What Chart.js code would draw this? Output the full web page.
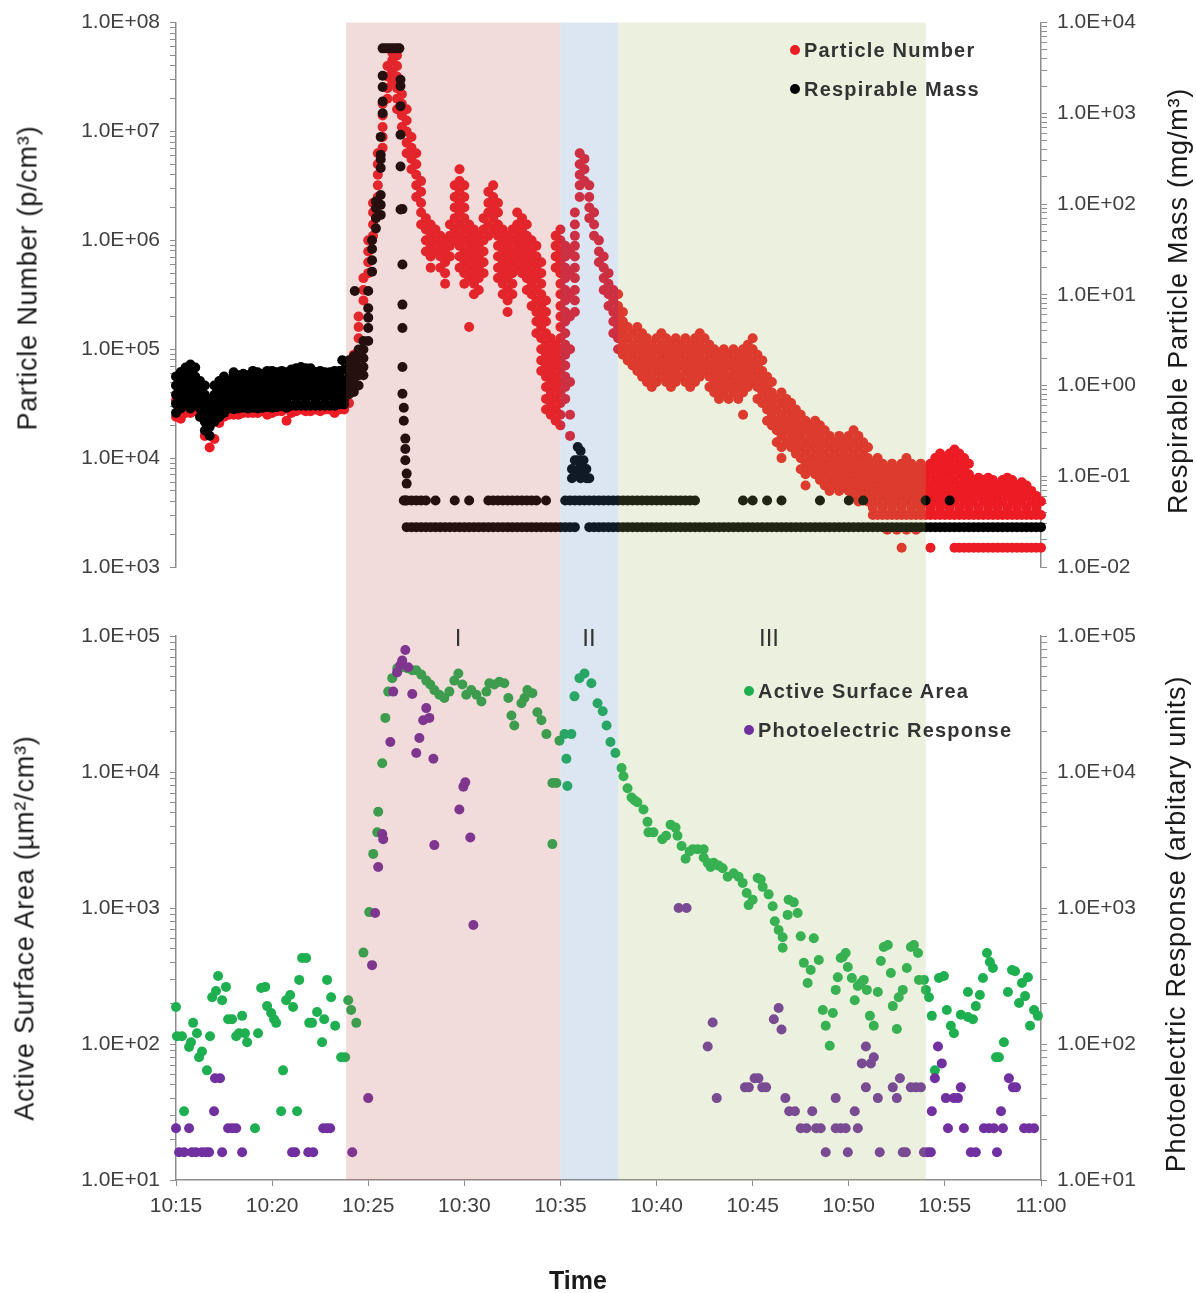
<!DOCTYPE html>
<html lang="en">
<head>
<meta charset="UTF-8">
<title>Particle number, respirable mass and surface area</title>
<script src="https://cdn.jsdelivr.net/npm/chart.js@4.4.1/dist/chart.umd.min.js"></script>
<style>
  body { margin: 0; background: #fff; font-family: "Liberation Sans", Arial, sans-serif; }
  #figure { position: relative; width: 1196px; height: 1293px; overflow: hidden; }
  canvas { position: absolute; left: 0; }
  .ytitle { position: absolute; transform-origin: 0 0; transform: rotate(-90deg) translate(-50%, -50%);
            white-space: nowrap; font-size: 27px; letter-spacing: 0.8px; color: #1a1a1a; line-height: 1; }
  .legend { position: absolute; font-weight: bold; font-size: 20px; color: #333; white-space: nowrap; line-height: 20px; letter-spacing: 1.2px; }
  .legend i { display: inline-block; width: 10px; height: 10px; border-radius: 50%; margin-right: 4px; vertical-align: 2px; }
  .phase { position: absolute; font-size: 24px; color: #333; transform: translateX(-50%); line-height: 1; }
  .xtitle { position: absolute; font-size: 25px; font-weight: bold; color: #1a1a1a; transform: translate(-50%, -50%); line-height: 1; }
</style>
</head>
<body>
<div id="figure">
  <canvas id="topChart" width="1196" height="600" style="top:0"></canvas>
  <canvas id="bottomChart" width="1196" height="693" style="top:600px"></canvas>

  <div class="ytitle" style="left:28px; top:278px">Particle Number (p/cm³)</div>
  <div class="ytitle" style="left:1178px; top:301px">Respirable Particle Mass (mg/m³)</div>
  <div class="ytitle" style="left:25px; top:928px">Active Surface Area (µm²/cm³)</div>
  <div class="ytitle" style="left:1176px; top:924px">Photoelectric Response (arbitary units)</div>
  <div class="xtitle" style="left:578px; top:1280px">Time</div>

  <div class="legend" style="left:790px; top:40px"><i style="background:#ed1c24"></i>Particle Number</div>
  <div class="legend" style="left:790px; top:79px"><i style="background:#000"></i>Respirable Mass</div>
  <div class="legend" style="left:744px; top:681px"><i style="background:#1eb050"></i>Active Surface Area</div>
  <div class="legend" style="left:744px; top:720px"><i style="background:#7030a0"></i>Photoelectric Response</div>

  <div class="phase" style="left:458px; top:626px">I</div>
  <div class="phase" style="left:589px; top:626px">II</div>
  <div class="phase" style="left:769px; top:626px">III</div>
</div>

<script>
// time axis: minutes after 10:15
const timeMin = 0, timeMax = 45, timeStep = 5;
const phaseLabels = ['I', 'II', 'III'];
const phaseStart = [8.85, 20.0, 23.0];
const phaseEnd = [20.0, 23.0, 39.0];

// particle number (p/cm3): [minute, readings...]
const particleNumber = [
  [0, 2.4e4, 3.4e4], [0.25, 2.3e4, 3.2e4], [0.5, 2.6e4, 3.6e4], [0.75, 2.6e4, 4.0e4],
  [1.0, 2.7e4, 4.0e4], [1.25, 2.5e4, 3.5e4], [1.5, 1.6e4, 2.5e4], [1.75, 1.25e4, 2.0e4],
  [2.0, 1.5e4, 2.4e4], [2.25, 2.1e4, 3.0e4], [2.5, 2.4e4, 3.3e4], [2.75, 2.5e4, 3.4e4],
  [3.0, 2.5e4, 3.5e4], [3.25, 2.5e4, 3.6e4], [3.5, 2.6e4, 3.7e4], [3.75, 2.6e4, 3.8e4],
  [4.0, 2.6e4, 3.8e4], [4.25, 2.6e4, 3.9e4], [4.5, 2.7e4, 4.0e4], [4.75, 2.5e4, 4.0e4],
  [5.0, 2.6e4, 4.0e4], [5.25, 2.7e4, 4.2e4], [5.5, 2.7e4, 4.2e4], [5.75, 2.2e4, 4.0e4],
  [6.0, 2.6e4, 4.2e4], [6.25, 2.7e4, 4.4e4], [6.5, 2.8e4, 5.2e4], [6.75, 2.7e4, 5.5e4],
  [7.0, 2.7e4, 4.3e4], [7.25, 2.8e4, 4.3e4], [7.5, 2.7e4, 4.3e4], [7.75, 2.8e4, 4.4e4],
  [8.0, 2.8e4, 4.4e4], [8.25, 2.6e4, 4.5e4], [8.5, 2.8e4, 4.5e4], [8.75, 2.8e4, 4.6e4],
  [9.0, 3.2e4, 4e4, 5e4], [9.25, 4.5e4, 5.6e4, 7.1e4, 8.9e4], [9.5, 1.26e5, 1.6e5, 2e5],
  [9.75, 2.8e5, 3.5e5, 4.5e5], [10.0, 5e5, 6.3e5, 7.9e5, 1e6], [10.25, 1.1e6, 1.4e6, 1.8e6, 2.2e6],
  [10.5, 2.5e6, 3.2e6, 4e6, 5e6, 6.3e6], [10.75, 7.1e6, 8.9e6, 1.1e7, 1.4e7, 1.8e7],
  [11.0, 2e7, 2.5e7, 3.2e7, 4e7], [11.25, 2.8e7, 3.5e7, 4.5e7, 5.3e7],
  [11.5, 1.6e7, 2e7, 2.5e7, 3.2e7, 4e7, 5e7], [11.75, 1.1e7, 1.4e7, 1.8e7, 2.2e7],
  [12.0, 6.3e6, 7.9e6, 1e7, 1.26e7, 1.6e7], [12.25, 4.5e6, 5.6e6, 7.1e6, 8.9e6],
  [12.5, 2.5e6, 3.2e6, 4e6, 5e6, 6.3e6], [12.75, 1.4e6, 1.8e6, 2.2e6, 2.8e6, 3.5e6],
  [13.0, 7.9e5, 1e6, 1.26e6, 1.6e6], [13.25, 5.6e5, 7.1e5, 8.9e5, 1.1e6, 1.4e6],
  [13.5, 7.9e5, 1e6, 1.26e6], [13.75, 5.6e5, 7.1e5, 8.9e5, 1.1e6],
  [14.0, 4e5, 5e5, 6.3e5, 7.9e5, 1e6], [14.25, 7.1e5, 8.9e5, 1.1e6, 1.4e6],
  [14.5, 1e6, 1.26e6, 1.6e6, 2e6, 2.5e6, 3.2e6],
  [14.75, 5.6e5, 7.1e5, 8.9e5, 1.1e6, 1.4e6, 1.8e6, 2.2e6, 2.8e6, 3.5e6, 4.5e6],
  [15.0, 4e5, 5e5, 6.3e5, 7.9e5, 1e6, 1.26e6, 1.6e6, 2e6, 2.5e6, 3.2e6],
  [15.25, 1.6e5, 4.5e5, 5.6e5, 7.1e5, 8.9e5, 1.1e6, 1.4e6],
  [15.5, 3.2e5, 4e5, 5e5, 6.3e5, 7.9e5, 1e6, 1.26e6],
  [15.75, 3.5e5, 4.5e5, 5.6e5, 7.1e5, 8.9e5, 1.1e6],
  [16.0, 5e5, 6.3e5, 7.9e5, 1e6, 1.26e6, 1.6e6], [16.25, 1.1e6, 1.4e6, 1.8e6, 2.2e6, 2.8e6],
  [16.5, 1.26e6, 1.6e6, 2e6, 2.5e6, 3.2e6],
  [16.75, 4.5e5, 5.6e5, 7.1e5, 8.9e5, 1.1e6, 1.4e6, 1.8e6, 2.2e6],
  [17.0, 3.2e5, 4e5, 5e5, 6.3e5, 7.9e5, 1e6, 1.26e6],
  [17.25, 2.2e5, 2.8e5, 3.5e5, 4.5e5, 5.6e5, 7.1e5, 8.9e5, 1.1e6],
  [17.5, 3.2e5, 4e5, 5e5, 6.3e5, 7.9e5, 1e6, 1.26e6],
  [17.75, 5.6e5, 7.1e5, 8.9e5, 1.1e6, 1.4e6, 1.8e6],
  [18.0, 5e5, 6.3e5, 7.9e5, 1e6, 1.26e6, 1.6e6],
  [18.25, 3.5e5, 4.5e5, 5.6e5, 7.1e5, 8.9e5, 1.1e6, 1.4e6],
  [18.5, 2.5e5, 3.2e5, 4e5, 5e5, 6.3e5, 7.9e5, 1e6],
  [18.75, 1.4e5, 1.8e5, 2.2e5, 2.8e5, 3.5e5, 4.5e5, 5.6e5, 7.1e5, 8.9e5],
  [19.0, 6.3e4, 7.9e4, 1e5, 1.26e5, 1.6e5, 2e5, 2.5e5, 3.2e5, 4e5, 5e5, 6.3e5],
  [19.25, 2.8e4, 3.5e4, 4.5e4, 5.6e4, 7.1e4, 8.9e4, 1.1e5, 1.4e5, 1.8e5, 2.2e5, 2.8e5],
  [19.5, 2.5e4, 3.2e4, 4e4, 5e4, 6.3e4, 7.9e4, 1e5, 1.26e5],
  [19.75, 2.2e4, 2.8e4, 3.5e4, 4.5e4, 5.6e4, 7.1e4, 8.9e4, 1.1e5, 5.6e5, 7.1e5, 8.9e5, 1.1e6],
  [20.0, 2e4, 2.5e4, 3.2e4, 4e4, 5e4, 6.3e4, 7.9e4, 1e5, 1.26e5, 1.6e5, 2e5, 2.5e5, 3.2e5, 4e5, 5e5, 6.3e5, 7.9e5, 1e6, 1.26e6],
  [20.25, 3.5e4, 4.5e4, 5.6e4, 7.1e4, 8.9e4, 1.1e5, 1.4e5, 1.8e5, 2.2e5, 2.8e5, 3.5e5, 4.5e5, 5.6e5, 7.1e5, 8.9e5],
  [20.5, 1.6e4, 2.5e4, 5e4, 1e5, 2e5, 3.2e5, 5e5, 7.9e5],
  [20.75, 2.2e5, 2.8e5, 3.5e5, 4.5e5, 5.6e5, 7.1e5, 8.9e5, 1.1e6, 1.4e6, 1.8e6],
  [21.0, 2.5e6, 3.2e6, 4e6, 5e6, 6.3e6], [21.25, 3.5e6, 4.5e6, 5.6e6],
  [21.5, 1.6e6, 2e6, 2.5e6, 3.2e6], [21.75, 1.1e6, 1.4e6, 1.8e6], [22.0, 6.3e5, 7.9e5, 1e6],
  [22.25, 3.5e5, 4.5e5, 5.6e5, 7.1e5], [22.5, 2.5e5, 3.2e5, 4e5, 5e5],
  [22.75, 1.4e5, 1.8e5, 2.2e5, 2.8e5, 3.5e5], [23.0, 1e5, 1.26e5, 1.6e5, 2e5, 2.5e5, 3.2e5],
  [23.25, 8.9e4, 1.1e5, 1.4e5, 1.8e5, 2.2e5], [23.5, 7.9e4, 1e5, 1.26e5, 1.6e5],
  [23.75, 7.1e4, 8.9e4, 1.1e5, 1.4e5], [24.0, 6.3e4, 7.9e4, 1e5, 1.26e5, 1.6e5],
  [24.25, 5.6e4, 7.1e4, 8.9e4, 1.1e5, 1.4e5], [24.5, 5e4, 6.3e4, 7.9e4, 1e5, 1.26e5],
  [24.75, 4.5e4, 5.6e4, 7.1e4, 8.9e4, 1.1e5], [25.0, 5e4, 6.3e4, 7.9e4, 1e5, 1.26e5],
  [25.25, 5.6e4, 7.1e4, 8.9e4, 1.1e5, 1.4e5], [25.5, 5e4, 6.3e4, 7.9e4, 1e5, 1.26e5],
  [25.75, 4.5e4, 5.6e4, 7.1e4, 8.9e4, 1.1e5], [26.0, 5e4, 6.3e4, 7.9e4, 1e5, 1.26e5],
  [26.25, 5.6e4, 7.1e4, 8.9e4, 1.1e5], [26.5, 5e4, 6.3e4, 7.9e4, 1e5, 1.26e5],
  [26.75, 4.5e4, 5.6e4, 7.1e4, 8.9e4, 1.1e5], [27.0, 5e4, 6.3e4, 7.9e4, 1e5, 1.26e5],
  [27.25, 5.6e4, 7.1e4, 8.9e4, 1.1e5, 1.4e5], [27.5, 6.3e4, 7.9e4, 1e5, 1.26e5],
  [27.75, 4.5e4, 5.6e4, 7.1e4, 8.9e4, 1.1e5], [28.0, 4e4, 5e4, 6.3e4, 7.9e4, 1e5],
  [28.25, 3.5e4, 4.5e4, 5.6e4, 7.1e4, 8.9e4], [28.5, 4e4, 5e4, 6.3e4, 7.9e4, 1e5],
  [28.75, 3.5e4, 4.5e4, 5.6e4, 7.1e4, 8.9e4], [29.0, 4e4, 5e4, 6.3e4, 7.9e4, 1e5],
  [29.25, 3.5e4, 4.5e4, 5.6e4, 7.1e4, 8.9e4], [29.5, 2.5e4, 4e4, 5e4, 6.3e4, 7.9e4, 1e5],
  [29.75, 4.5e4, 5.6e4, 7.1e4, 8.9e4, 1.1e5], [30.0, 5e4, 6.3e4, 7.9e4, 1e5, 1.26e5],
  [30.25, 3.5e4, 4.5e4, 5.6e4, 7.1e4, 8.9e4], [30.5, 3.2e4, 4e4, 5e4, 6.3e4, 7.9e4],
  [30.75, 2.2e4, 2.8e4, 3.5e4, 4.5e4, 5.6e4], [31.0, 2e4, 2.5e4, 3.2e4, 4e4, 5e4],
  [31.25, 1.4e4, 1.8e4, 2.2e4, 2.8e4, 3.5e4], [31.5, 1e4, 1.26e4, 1.6e4, 2e4, 2.5e4, 3.2e4, 4e4],
  [31.75, 1.4e4, 1.8e4, 2.2e4, 2.8e4, 3.5e4], [32.0, 1.26e4, 1.6e4, 2e4, 2.5e4, 3.2e4],
  [32.25, 1.1e4, 1.4e4, 1.8e4, 2.2e4, 2.8e4], [32.5, 7.9e3, 1e4, 1.26e4, 1.6e4, 2e4, 2.5e4],
  [32.75, 5.6e3, 7.1e3, 8.9e3, 1.1e4, 1.4e4, 1.8e4, 2.2e4], [33.0, 7.9e3, 1e4, 1.26e4, 1.6e4, 2e4],
  [33.25, 7.1e3, 8.9e3, 1.1e4, 1.4e4, 1.8e4, 2.2e4], [33.5, 6.3e3, 7.9e3, 1e4, 1.26e4, 1.6e4, 2e4],
  [33.75, 5.6e3, 7.1e3, 8.9e3, 1.1e4, 1.4e4, 1.8e4], [34.0, 5e3, 6.3e3, 7.9e3, 1e4, 1.26e4, 1.6e4],
  [34.25, 5.6e3, 7.1e3, 8.9e3, 1.1e4, 1.4e4], [34.5, 5e3, 6.3e3, 7.9e3, 1e4, 1.26e4, 1.6e4],
  [34.75, 5.6e3, 7.1e3, 8.9e3, 1.1e4, 1.4e4], [35.0, 5e3, 6.3e3, 7.9e3, 1e4, 1.26e4, 1.6e4],
  [35.25, 4.5e3, 5.6e3, 7.1e3, 8.9e3, 1.1e4, 1.4e4, 1.8e4], [35.5, 4e3, 5e3, 6.3e3, 7.9e3, 1e4, 1.26e4, 1.6e4],
  [35.75, 4.5e3, 5.6e3, 7.1e3, 8.9e3, 1.1e4, 1.4e4], [36.0, 4e3, 5e3, 6.3e3, 7.9e3, 1e4, 1.26e4],
  [36.25, 3e3, 3.5e3, 4.5e3, 5.6e3, 7.1e3, 8.9e3], [36.5, 3e3, 4e3, 5e3, 6.3e3, 7.9e3, 1e4],
  [36.75, 3e3, 3.5e3, 4.5e3, 5.6e3, 7.1e3, 8.9e3], [37.0, 2.2e3, 3e3, 4e3, 5e3, 6.3e3, 7.9e3],
  [37.25, 3e3, 3.5e3, 4.5e3, 5.6e3, 7.1e3, 8.9e3], [37.5, 2.2e3, 3e3, 4e3, 5e3, 6.3e3, 7.9e3],
  [37.75, 1.5e3, 3e3, 3.5e3, 4.5e3, 5.6e3, 7.1e3, 8.9e3], [38.0, 2.2e3, 3e3, 4e3, 5e3, 6.3e3, 7.9e3, 1e4],
  [38.25, 3e3, 3.5e3, 4.5e3, 5.6e3, 7.1e3, 8.9e3], [38.5, 2.2e3, 3e3, 4e3, 5e3, 6.3e3, 7.9e3],
  [38.75, 3e3, 3.5e3, 4.5e3, 5.6e3, 7.1e3, 8.9e3], [39.0, 3e3, 4e3, 5e3, 6.3e3, 7.9e3],
  [39.25, 1.5e3, 3e3, 3.5e3, 4.5e3, 5.6e3, 7.1e3, 8.9e3], [39.5, 3e3, 4e3, 5e3, 6.3e3, 7.9e3, 1e4],
  [39.75, 3e3, 3.5e3, 4.5e3, 5.6e3, 7.1e3, 8.9e3, 1.1e4], [40.0, 3e3, 4e3, 5e3, 6.3e3, 7.9e3, 1e4],
  [40.25, 3e3, 3.5e3, 4.5e3, 5.6e3, 7.1e3, 8.9e3, 1.1e4], [40.5, 1.5e3, 3e3, 4e3, 5e3, 6.3e3, 7.9e3, 1e4, 1.2e4],
  [40.75, 1.5e3, 3e3, 3.5e3, 4.5e3, 5.6e3, 7.1e3, 8.9e3, 1.1e4], [41.0, 1.5e3, 3e3, 4e3, 5e3, 6.3e3, 7.9e3, 1e4],
  [41.25, 1.5e3, 3e3, 3.5e3, 4.5e3, 5.6e3, 7.1e3, 8.9e3], [41.5, 1.5e3, 3e3, 4e3, 5e3, 6.3e3],
  [41.75, 1.5e3, 3e3, 3.5e3, 4.5e3, 5.6e3, 6.6e3], [42.0, 1.5e3, 3e3, 4e3, 5e3, 6.3e3],
  [42.25, 1.5e3, 3e3, 3.5e3, 4.5e3, 5.6e3, 6.6e3], [42.5, 1.5e3, 3e3, 4e3, 5e3, 6.3e3],
  [42.75, 1.5e3, 3e3, 3.5e3, 4.5e3, 5.6e3], [43.0, 1.5e3, 3e3, 4e3, 5e3, 6.3e3],
  [43.25, 1.5e3, 3e3, 3.5e3, 4.5e3, 5.6e3, 6.6e3], [43.5, 1.5e3, 3e3, 4e3, 5e3, 6.3e3],
  [43.75, 1.5e3, 3e3, 3.5e3, 4.5e3, 5.6e3], [44.0, 1.5e3, 3e3, 4e3, 5e3, 6e3],
  [44.25, 1.5e3, 3e3, 3.5e3, 4.5e3, 5.6e3], [44.5, 1.5e3, 3e3, 4e3, 5e3],
  [44.75, 1.5e3, 3e3, 3.5e3, 4.5e3], [45.0, 1.5e3, 3e3, 4e3]
];

// respirable mass (mg/m3): [minute, readings...]
const respirableMass = [
  [0, 0.5, 0.63, 0.79, 1.0, 1.26], [0.25, 0.56, 0.71, 0.89, 1.12, 1.41], [0.5, 0.63, 0.79, 1.0, 1.26, 1.58],
  [0.75, 0.56, 0.71, 0.89, 1.12, 1.41, 1.7], [1.0, 0.63, 0.79, 1.0, 1.26, 1.58], [1.25, 0.45, 0.56, 0.71, 0.89, 1.12],
  [1.5, 0.32, 0.4, 0.5, 0.63, 0.79, 1.0], [1.75, 0.28, 0.35, 0.45, 0.56, 0.71], [2.0, 0.4, 0.5, 0.63, 0.79, 1.0],
  [2.25, 0.45, 0.56, 0.71, 0.89, 1.12], [2.5, 0.5, 0.63, 0.79, 1.0, 1.26], [2.75, 0.56, 0.71, 0.89, 1.12],
  [3.0, 0.55, 0.63, 0.79, 1.0, 1.26, 1.4], [3.25, 0.56, 0.71, 0.89, 1.12, 1.3], [3.5, 0.57, 0.63, 0.79, 1.0, 1.26, 1.35],
  [3.75, 0.56, 0.71, 0.89, 1.12, 1.3], [4.0, 0.57, 0.63, 0.79, 1.0, 1.26, 1.45], [4.25, 0.56, 0.71, 0.89, 1.12, 1.4],
  [4.5, 0.57, 0.63, 0.79, 1.0, 1.26, 1.35], [4.75, 0.58, 0.71, 0.89, 1.12, 1.45], [5.0, 0.57, 0.63, 0.79, 1.0, 1.26, 1.45],
  [5.25, 0.58, 0.71, 0.89, 1.12, 1.4], [5.5, 0.59, 0.63, 0.79, 1.0, 1.26, 1.45], [5.75, 0.57, 0.71, 0.89, 1.12, 1.4],
  [6.0, 0.6, 0.79, 1.0, 1.26, 1.5], [6.25, 0.6, 0.71, 0.89, 1.12, 1.41, 1.55], [6.5, 0.6, 0.79, 1.0, 1.26, 1.6],
  [6.75, 0.6, 0.71, 0.89, 1.12, 1.41, 1.55], [7.0, 0.6, 0.79, 1.0, 1.26, 1.55], [7.25, 0.6, 0.71, 0.89, 1.12, 1.41],
  [7.5, 0.6, 0.79, 1.0, 1.26, 1.45], [7.75, 0.6, 0.71, 0.89, 1.12, 1.4], [8.0, 0.6, 0.79, 1.0, 1.26, 1.4],
  [8.25, 0.6, 0.71, 0.89, 1.12, 1.45], [8.5, 0.62, 0.79, 1.0, 1.26, 1.45], [8.65, 1.9],
  [8.75, 0.62, 0.71, 0.89, 1.12, 1.5], [9.0, 0.8, 1.0, 1.26, 1.6, 1.9], [9.25, 0.85, 1.1, 1.4, 1.8, 2.1], [9.3, 11],
  [9.5, 1.0, 1.3, 1.6, 2.0, 2.5], [9.75, 1.3, 1.6, 2.0, 2.5, 3.1], [10.0, 3.1, 4.3, 5.6, 7.1, 11],
  [10.2, 18, 24, 32, 40], [10.4, 54, 70, 90, 107], [10.65, 76, 98, 126, 250, 310, 350, 550],
  [10.75, 1000, 1350, 1950, 2600, 5200], [10.9, 5200], [11.05, 5200], [11.2, 5200],
  [11.35, 5200], [11.5, 5200], [11.62, 5200], [11.68, 2350, 2000, 1200, 580, 260, 87],
  [11.78, 88, 21.6, 7.8, 4.3, 1.6, 0.81], [11.85, 0.57, 0.41, 0.054], [11.93, 0.26, 0.2, 0.15, 0.054],
  [12.0, 0.107, 0.083, 0.054, 0.0275],
  [12.25, 0.0275, 0.054], [12.5, 0.0275, 0.054], [12.75, 0.0275, 0.054], [13.0, 0.0275, 0.054],
  [13.25, 0.0275], [13.5, 0.0275, 0.054], [13.75, 0.0275], [14.0, 0.0275], [14.25, 0.0275],
  [14.5, 0.0275, 0.054], [14.75, 0.0275], [15.0, 0.0275], [15.25, 0.0275, 0.054], [15.5, 0.0275],
  [15.75, 0.0275], [16.0, 0.0275], [16.25, 0.0275, 0.054], [16.5, 0.0275, 0.054],
  [16.75, 0.0275, 0.054], [17.0, 0.0275, 0.054], [17.25, 0.0275, 0.054], [17.5, 0.0275, 0.054],
  [17.75, 0.0275, 0.054], [18.0, 0.0275, 0.054], [18.25, 0.0275, 0.054], [18.5, 0.0275, 0.054],
  [18.75, 0.0275, 0.054], [19.0, 0.0275], [19.25, 0.0275, 0.054], [19.5, 0.0275], [19.75, 0.0275],
  [20.0, 0.0275], [20.25, 0.0275, 0.054], [20.5, 0.0275, 0.054], [20.6, 0.12, 0.095],
  [20.75, 0.0275, 0.054, 0.15, 0.11], [20.9, 0.21, 0.15, 0.11], [21.0, 0.054],
  [21.05, 0.19, 0.13, 0.095], [21.2, 0.15, 0.11], [21.25, 0.054], [21.35, 0.12, 0.095],
  [21.5, 0.0275, 0.054, 0.095], [21.75, 0.0275, 0.054], [22.0, 0.0275, 0.054], [22.25, 0.0275, 0.054],
  [22.5, 0.0275, 0.054], [22.75, 0.0275, 0.054], [23.0, 0.0275, 0.054], [23.25, 0.0275, 0.054],
  [23.5, 0.0275, 0.054], [23.75, 0.0275, 0.054], [24.0, 0.0275, 0.054], [24.25, 0.0275, 0.054],
  [24.5, 0.0275, 0.054], [24.75, 0.0275, 0.054], [25.0, 0.0275, 0.054], [25.25, 0.0275, 0.054],
  [25.5, 0.0275, 0.054], [25.75, 0.0275, 0.054], [26.0, 0.0275, 0.054], [26.25, 0.0275, 0.054],
  [26.5, 0.0275, 0.054], [26.75, 0.0275, 0.054], [27.0, 0.0275, 0.054], [27.25, 0.0275],
  [27.5, 0.0275], [27.75, 0.0275], [28.0, 0.0275], [28.25, 0.0275], [28.5, 0.0275], [28.75, 0.0275],
  [29.0, 0.0275], [29.25, 0.0275], [29.5, 0.0275, 0.054], [29.75, 0.0275], [30.0, 0.0275, 0.054],
  [30.25, 0.0275], [30.5, 0.0275], [30.75, 0.0275, 0.054], [31.0, 0.0275], [31.25, 0.0275],
  [31.5, 0.0275, 0.054], [31.75, 0.0275], [32.0, 0.0275], [32.25, 0.0275], [32.5, 0.0275],
  [32.75, 0.0275], [33.0, 0.0275], [33.25, 0.0275], [33.5, 0.0275, 0.054], [33.75, 0.0275],
  [34.0, 0.0275], [34.25, 0.0275], [34.5, 0.0275], [34.75, 0.0275], [35.0, 0.0275, 0.054],
  [35.25, 0.0275], [35.5, 0.0275], [35.75, 0.0275, 0.054], [36.0, 0.0275], [36.25, 0.0275],
  [36.5, 0.0275], [36.75, 0.0275], [37.0, 0.0275], [37.25, 0.0275], [37.5, 0.0275], [37.75, 0.0275],
  [38.0, 0.0275], [38.25, 0.0275], [38.5, 0.0275], [38.75, 0.0275], [39.0, 0.0275, 0.054],
  [39.25, 0.0275], [39.5, 0.0275], [39.75, 0.0275], [40.0, 0.0275], [40.25, 0.0275, 0.054],
  [40.5, 0.0275], [40.75, 0.0275], [41.0, 0.0275], [41.25, 0.0275], [41.5, 0.0275], [41.75, 0.0275],
  [42.0, 0.0275], [42.25, 0.0275], [42.5, 0.0275], [42.75, 0.0275], [43.0, 0.0275], [43.25, 0.0275],
  [43.5, 0.0275], [43.75, 0.0275], [44.0, 0.0275], [44.25, 0.0275], [44.5, 0.0275], [44.75, 0.0275],
  [45.0, 0.0275]
];

// active surface area (um2/cm3): [minute, value]
const surfaceArea = [
  [0, 187], [0.05, 114], [0.31, 114], [0.42, 32], [0.68, 95], [0.78, 103], [0.89, 143], [1.09, 120],
  [1.2, 80], [1.35, 88], [1.61, 64], [1.77, 114], [1.88, 221], [2.08, 245], [2.19, 316], [2.4, 210],
  [2.6, 263], [2.71, 152], [2.92, 152], [3.13, 114], [3.28, 120], [3.44, 161], [3.59, 120], [3.7, 103],
  [4.11, 24], [4.27, 120], [4.43, 258], [4.64, 263], [4.74, 190], [4.95, 169], [5.1, 152], [5.21, 143],
  [5.47, 32], [5.57, 64], [5.73, 210], [5.94, 229], [6.09, 187], [6.3, 32], [6.41, 296], [6.56, 429],
  [6.77, 429], [6.93, 143], [7.08, 143], [7.34, 172], [7.6, 103], [7.71, 152], [7.86, 296], [8.07, 221],
  [8.28, 136], [8.59, 80], [8.8, 80], [8.96, 210], [9.11, 178], [9.38, 143],
  [9.75, 470], [10.05, 933], [10.26, 2500], [10.47, 3600], [10.52, 5100], [10.73, 11600], [10.89, 25000],
  [11.04, 39000], [11.25, 49000], [11.51, 58000], [11.77, 59000], [12.03, 58000], [12.29, 56000],
  [12.5, 56000], [12.76, 52000], [13.02, 47000], [13.23, 44000], [13.44, 40000], [13.7, 37000],
  [13.96, 35000], [14.22, 39000], [14.48, 47000], [14.69, 53000], [14.9, 44000], [15.1, 37000],
  [15.36, 40000], [15.63, 37000], [15.89, 33000], [16.15, 39000], [16.3, 45000], [16.56, 44000],
  [16.82, 46000], [17.08, 45000], [17.29, 35000], [17.45, 26000], [17.6, 22000], [17.97, 32000],
  [18.13, 35000], [18.28, 40000], [18.54, 38000], [18.8, 27500], [19.01, 24000], [19.27, 19000],
  [19.58, 8300], [19.79, 8300], [19.58, 2950], [19.95, 17000], [20.21, 19000], [20.57, 19000],
  [20.31, 12500], [20.36, 7900], [20.73, 36000], [20.99, 49000], [21.25, 53000], [21.61, 45000],
  [21.93, 32000], [22.2, 28000], [22.4, 22000], [22.6, 16600], [22.86, 13800], [23.18, 10700],
  [23.28, 9300], [23.49, 7600], [23.7, 6500], [23.85, 6200], [24.0, 6000], [24.32, 5300], [24.53, 4300],
  [24.58, 3600], [24.84, 3600], [25.3, 3200], [25.5, 3400], [25.73, 4100], [25.99, 3900], [26.09, 3400],
  [26.3, 2860], [26.51, 2300], [26.72, 2600], [26.88, 2700], [27.14, 2700], [27.45, 2700], [27.45, 2350],
  [27.66, 2150], [27.81, 2000], [27.97, 2150], [28.23, 2050], [28.44, 1960], [28.7, 1700], [29.01, 1800],
  [29.27, 1700], [29.48, 1530], [29.69, 1290], [29.79, 1050], [30.0, 1150], [30.26, 1660], [30.42, 1620],
  [30.52, 1430], [30.83, 1260], [31.04, 1030], [31.15, 800], [31.35, 690], [31.56, 610], [31.56, 510],
  [31.82, 890], [31.87, 1150], [32.14, 1100], [32.34, 920], [32.5, 620], [32.66, 395], [32.86, 281],
  [33.02, 350], [33.18, 600], [33.44, 415], [33.65, 178], [33.8, 136], [34.01, 97], [34.17, 169],
  [34.32, 250], [34.43, 310], [34.58, 429], [34.69, 436], [34.84, 467], [34.95, 368], [35.16, 306],
  [35.31, 210], [35.47, 267], [35.63, 281], [35.78, 296], [35.94, 250], [36.1, 161], [36.3, 136],
  [36.51, 241], [36.67, 408], [36.82, 516], [37.03, 535], [37.19, 333], [37.29, 190], [37.5, 129],
  [37.6, 221], [37.81, 250], [38.02, 362], [38.23, 516], [38.39, 535], [38.6, 467], [38.65, 296],
  [38.91, 296], [39.01, 250], [39.17, 221], [39.32, 161], [39.48, 64], [39.69, 306], [39.95, 316],
  [40.1, 178], [40.31, 136], [40.47, 120], [40.83, 164], [41.2, 241], [41.2, 158], [41.46, 152],
  [41.61, 190], [41.82, 229], [41.98, 306], [42.19, 467], [42.34, 401], [42.5, 362], [42.66, 80],
  [42.81, 80], [43.07, 103], [43.28, 241], [43.49, 350], [43.65, 343], [43.86, 200], [44.01, 281],
  [44.17, 225], [44.32, 310], [44.43, 136], [44.64, 178], [44.84, 161]
];

// photoelectric response (arbitrary units): [minute, value]
const photoResponse = [
  [0, 24], [0.16, 16], [0.42, 16], [0.68, 24], [0.83, 16], [1.04, 16], [1.35, 16], [1.56, 16], [1.72, 16],
  [1.98, 32], [2.03, 56], [2.29, 56], [2.4, 16], [2.71, 24], [2.92, 24], [3.13, 24], [3.44, 16],
  [6.04, 16], [6.2, 16], [6.88, 16], [7.14, 16], [7.66, 24], [7.86, 24], [8.02, 24], [9.17, 16],
  [10.0, 40], [10.2, 380], [10.36, 920], [10.52, 2000], [10.73, 3500], [10.78, 3200], [11.15, 16600],
  [11.3, 39000], [11.5, 54000], [11.67, 61000], [11.77, 66000], [11.93, 79000], [12.08, 59000],
  [12.29, 37500], [12.5, 13800], [12.66, 17800], [12.86, 24000], [13.02, 29500], [13.18, 25000],
  [13.39, 12500], [13.44, 2900], [14.74, 5300], [14.95, 7800], [15.05, 8400], [15.31, 3300], [15.47, 750],
  [26.15, 1000], [26.56, 1000], [27.66, 96], [27.92, 144], [28.13, 40],
  [29.6, 48], [29.8, 48], [30.1, 56], [30.3, 56], [30.5, 48], [30.7, 48], [31.1, 152], [31.35, 184],
  [31.5, 128], [31.7, 40], [31.9, 32], [32.2, 32], [32.5, 24], [32.8, 24], [33.1, 32], [33.3, 24],
  [33.54, 24], [33.8, 16], [34.32, 40], [34.32, 24], [34.58, 24], [34.84, 24], [34.95, 16], [35.31, 32],
  [35.47, 24], [35.68, 72], [35.89, 96], [35.89, 48], [36.15, 72], [36.3, 80], [36.51, 40], [36.61, 16],
  [37.29, 48], [37.5, 40], [37.66, 56], [37.81, 16], [37.97, 16], [38.23, 48], [38.49, 48], [38.75, 48],
  [38.91, 16], [39.11, 16], [39.27, 16], [39.32, 32], [39.48, 56], [39.64, 96], [39.84, 72], [40.05, 40],
  [40.16, 24], [40.47, 40], [40.68, 40], [40.83, 48], [40.99, 24], [41.35, 16], [41.61, 16], [42.03, 24],
  [42.29, 24], [42.55, 24], [42.71, 16], [42.92, 32], [43.02, 24], [43.33, 56], [43.54, 48], [43.7, 48],
  [44.12, 24], [44.38, 24], [44.64, 24]
];

const FONT = '"Liberation Sans", Arial, sans-serif';
const AXIS_GREY = '#8c8c8c';
const TICK_COLOR = '#404040';
const phaseColors = ['rgba(190,80,75,0.2)', 'rgba(79,129,189,0.2)', 'rgba(155,187,89,0.2)'];

const toPoints = rows => rows.flatMap(([t, ...vals]) => vals.map(v => ({ x: t, y: v })));

function sciLabel(v) {
  const e = Math.log10(v);
  if (Math.abs(e - Math.round(e)) > 1e-6) return '';
  const n = Math.round(e);
  return '1.0E' + (n < 0 ? '-' : '+') + String(Math.abs(n)).padStart(2, '0');
}

function logAxis(position, min, max) {
  return {
    type: 'logarithmic', position, min, max,
    afterFit: s => { s.width = position === 'left' ? 176 : 155; },
    afterBuildTicks: s => {
      const ticks = [];
      for (let e = Math.round(Math.log10(min)); e <= Math.round(Math.log10(max)); e++) {
        for (let m = 1; m <= 9; m++) {
          const v = m * Math.pow(10, e);
          if (v <= max * 1.0001) ticks.push({ value: v });
        }
      }
      s.ticks = ticks;
    },
    ticks: { autoSkip: false, padding: 10, color: TICK_COLOR, font: { family: FONT, size: 21 }, callback: sciLabel },
    grid: { drawOnChartArea: false, tickLength: 6, color: AXIS_GREY, lineWidth: 1 },
    border: { color: AXIS_GREY, width: 1.5 }
  };
}

function phaseShading(part) {
  return {
    id: 'phaseShading',
    afterDatasetsDraw(chart) {
      const { ctx, chartArea, scales: { x } } = chart;
      const y0 = part === 'top' ? chartArea.top : 0;
      const y1 = part === 'top' ? chart.height : chartArea.bottom;
      ctx.save();
      phaseLabels.forEach((_, i) => {
        const a = x.getPixelForValue(phaseStart[i]);
        const b = x.getPixelForValue(phaseEnd[i]);
        ctx.fillStyle = phaseColors[i];
        ctx.fillRect(a, y0, b - a, y1 - y0);
      });
      ctx.restore();
    }
  };
}

const common = {
  responsive: false,
  animation: false,
  events: [],
  plugins: { legend: { display: false }, tooltip: { enabled: false } },
  elements: { point: { radius: 5, borderWidth: 0, hoverRadius: 5, pointStyle: 'circle' } }
};

new Chart(document.getElementById('topChart'), {
  type: 'scatter',
  data: {
    datasets: [
      { label: 'Particle Number', data: toPoints(particleNumber), backgroundColor: '#ed1c24', yAxisID: 'yLeft', order: 2, clip: false },
      { label: 'Respirable Mass', data: toPoints(respirableMass), backgroundColor: '#000000', yAxisID: 'yRight', order: 1, clip: false }
    ]
  },
  options: {
    ...common,
    layout: { padding: { top: 20, bottom: 33, left: 0, right: 0 } },
    scales: {
      x: { type: 'linear', min: timeMin, max: timeMax, display: false },
      yLeft: logAxis('left', 1e3, 1e8),
      yRight: logAxis('right', 1e-2, 1e4)
    }
  },
  plugins: [phaseShading('top')]
});

new Chart(document.getElementById('bottomChart'), {
  type: 'scatter',
  data: {
    datasets: [
      { label: 'Active Surface Area', data: surfaceArea.map(([t, v]) => ({ x: t, y: v })), backgroundColor: '#1eb050', yAxisID: 'yLeft', order: 2, clip: false },
      { label: 'Photoelectric Response', data: photoResponse.map(([t, v]) => ({ x: t, y: v })), backgroundColor: '#7030a0', yAxisID: 'yRight', order: 1, clip: false }
    ]
  },
  options: {
    ...common,
    layout: { padding: { top: 36, bottom: 0, left: 0, right: 0 } },
    scales: {
      x: {
        type: 'linear', min: timeMin, max: timeMax,
        afterFit: s => { s.height = 113; },
        ticks: {
          stepSize: timeStep, padding: 8, color: TICK_COLOR, font: { family: FONT, size: 21 },
          callback: v => { const m = 615 + v; return Math.floor(m / 60) + ':' + String(m % 60).padStart(2, '0'); }
        },
        grid: { drawOnChartArea: false, tickLength: 6, color: AXIS_GREY },
        border: { color: AXIS_GREY, width: 1.5 }
      },
      yLeft: logAxis('left', 1e1, 1e5),
      yRight: logAxis('right', 1e1, 1e5)
    }
  },
  plugins: [phaseShading('bottom')]
});
</script>
</body>
</html>
